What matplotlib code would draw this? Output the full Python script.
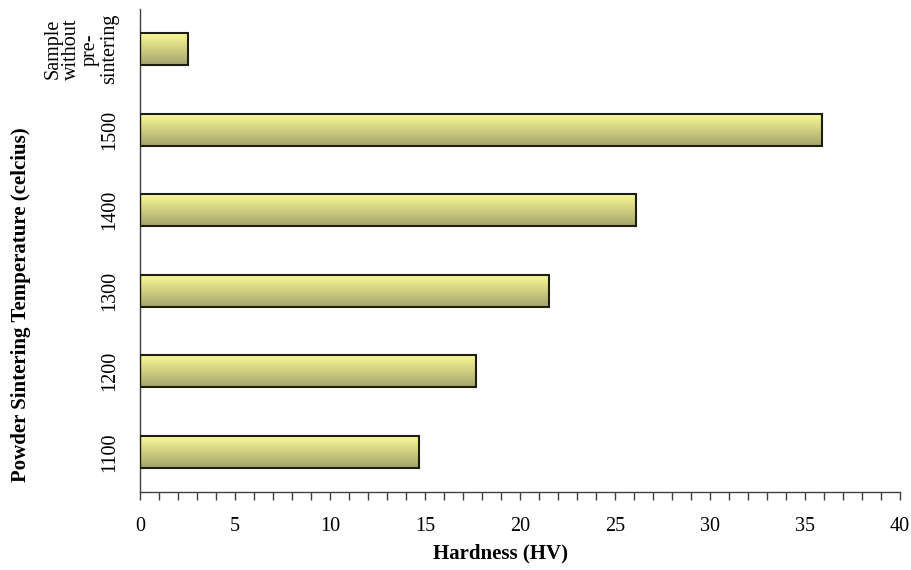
import numpy as np
import matplotlib
matplotlib.use("Agg")
import matplotlib.pyplot as plt
from matplotlib.colors import LinearSegmentedColormap
from matplotlib.ticker import MultipleLocator

# Hardness of samples by powder sintering temperature
categories = ["1100", "1200", "1300", "1400", "1500",
              "Sample\nwithout\npre-\nsintering"]
hardness = [14.7, 17.7, 21.5, 26.1, 35.9, 2.5]

x_label = "Hardness (HV)"
y_label = "Powder Sintering Temperature (celcius)"

plt.rcParams["font.family"] = ["Liberation Serif", "DejaVu Serif"]

fig = plt.figure(figsize=(9.12, 5.70), dpi=100)
ax = fig.add_axes([140 / 912, 78 / 570, 760 / 912, 483 / 570])

bar_h = 0.4
pos = np.arange(len(categories))

# vertical gradient: pale yellow at top, olive at bottom
cmap = LinearSegmentedColormap.from_list("bar", ["#A3A36B", "#FDFD98"])
grad = np.linspace(0, 1, 256).reshape(-1, 1)

bars = ax.barh(pos, hardness, height=bar_h, facecolor="none",
               edgecolor="#1E1E10", linewidth=1.5, zorder=3)
for rect in bars:
    x0, y0 = rect.get_x(), rect.get_y()
    w, h = rect.get_width(), rect.get_height()
    im = ax.imshow(grad, extent=[x0, x0 + w, y0, y0 + h], origin="lower",
                   aspect="auto", cmap=cmap, zorder=2, interpolation="bicubic")
    im.set_clip_path(rect)

ax.set_xlim(0, 40)
ax.set_ylim(-0.5, len(categories) - 0.5)

ax.xaxis.set_major_locator(MultipleLocator(5))
ax.xaxis.set_minor_locator(MultipleLocator(1))
ax.tick_params(axis="x", which="both", direction="out", length=6,
               width=1, color="#404040", labelsize=14.5, pad=12)
ax.set_yticks(pos)
ax.set_yticklabels(categories, rotation=90, va="center", ha="right",
                   multialignment="center", fontsize=14.5, linespacing=1.0)
ax.tick_params(axis="y", which="both", length=0, pad=15)

for side in ("top", "right"):
    ax.spines[side].set_visible(False)
for side in ("left", "bottom"):
    ax.spines[side].set_color("#404040")
    ax.spines[side].set_linewidth(1.0)

fig.text(501 / 912, 1 - 553 / 570, x_label, ha="center", va="center",
         fontsize=15, fontweight="bold")
fig.text(21 / 912, 1 - 305 / 570, y_label, ha="center", va="center",
         rotation=90, fontsize=15, fontweight="bold")

fig.savefig("out.png", dpi=100)
